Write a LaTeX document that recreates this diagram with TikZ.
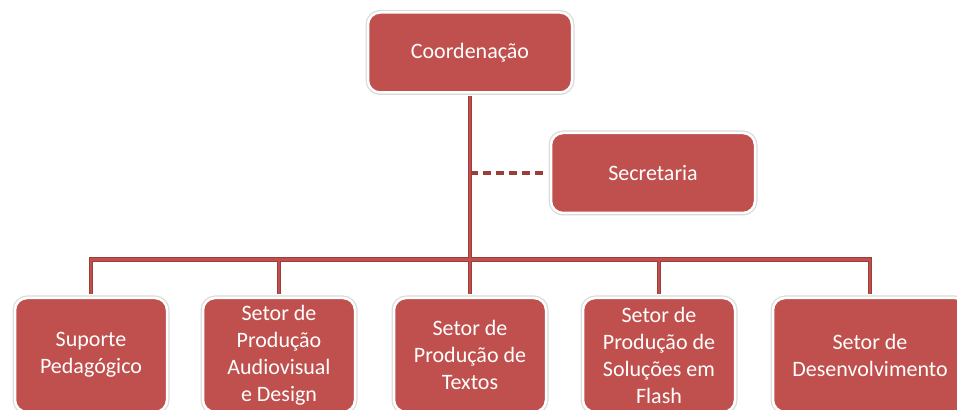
\documentclass[tikz,border=0pt]{standalone}
\usepackage{fontspec}
\setmainfont{Carlito}
\usetikzlibrary{shadows}
\definecolor{boxred}{HTML}{C0504D}
\definecolor{linedark}{HTML}{9C3D3A}
\definecolor{linelight}{HTML}{C0504D}
\tikzset{
  orgbox/.style={rectangle, rounded corners=12pt, fill=boxred, draw=white, line width=2.5pt,
    text=white, align=center, font=\fontsize{22}{27}\selectfont,
    preaction={draw=black!14, line width=5pt},
    drop shadow={opacity=0.15, shadow xshift=0pt, shadow yshift=-1.5pt},
    inner sep=1pt},
  conn/.style={draw=linedark, line width=4.5pt},
  connin/.style={draw=linelight, line width=2.2pt},
  dconn/.style={draw=linedark, line width=3.5pt, dash pattern=on 8pt off 5pt}
}
\begin{document}
\begin{tikzpicture}[x=1pt,y=1pt]
\useasboundingbox (0,0) rectangle (957,409);
\clip (0,0) rectangle (957,409);
\fill[white] (0,0) rectangle (957,409);
\coordinate (bar) at (470,149.5);
\node[orgbox, minimum width=204pt, minimum height=80pt] (coord) at (470,356.5) {Coordena\c{c}\~ao};
\node[orgbox, minimum width=204pt, minimum height=80pt] (sec) at (653,236) {Secretaria};
\node[orgbox, minimum width=152pt, minimum height=114pt] (b1) at (91,54) {Suporte\\Pedag\'ogico};
\node[orgbox, minimum width=152pt, minimum height=114pt] (b2) at (279,54) {Setor de\\Produ\c{c}\~ao\\Audiovisual\\e Design};
\node[orgbox, minimum width=152pt, minimum height=114pt] (b3) at (470,54) {Setor de\\Produ\c{c}\~ao de\\Textos};
\node[orgbox, minimum width=152pt, minimum height=114pt] (b4) at (659,54) {Setor de\\Produ\c{c}\~ao de\\Solu\c{c}\~oes em\\Flash};
\node[orgbox, minimum width=194pt, minimum height=114pt] (b5) at (870,54) {Setor de\\Desenvolvimento};
\draw[dconn] (coord.south |- sec.west) -- ([xshift=-2.5pt]sec.west);
\draw[conn] ([yshift=-2.5pt]coord.south) -- (bar);
\foreach \c in {b1,b2,b3,b4,b5} {
  \draw[conn] (bar) -| ([yshift=2.5pt]\c.north);
}
\draw[connin] ([yshift=-2.5pt]coord.south) -- (bar);
\foreach \c in {b1,b2,b3,b4,b5} {
  \draw[connin] (bar) -| ([yshift=2.5pt]\c.north);
}
\end{tikzpicture}
\end{document}
